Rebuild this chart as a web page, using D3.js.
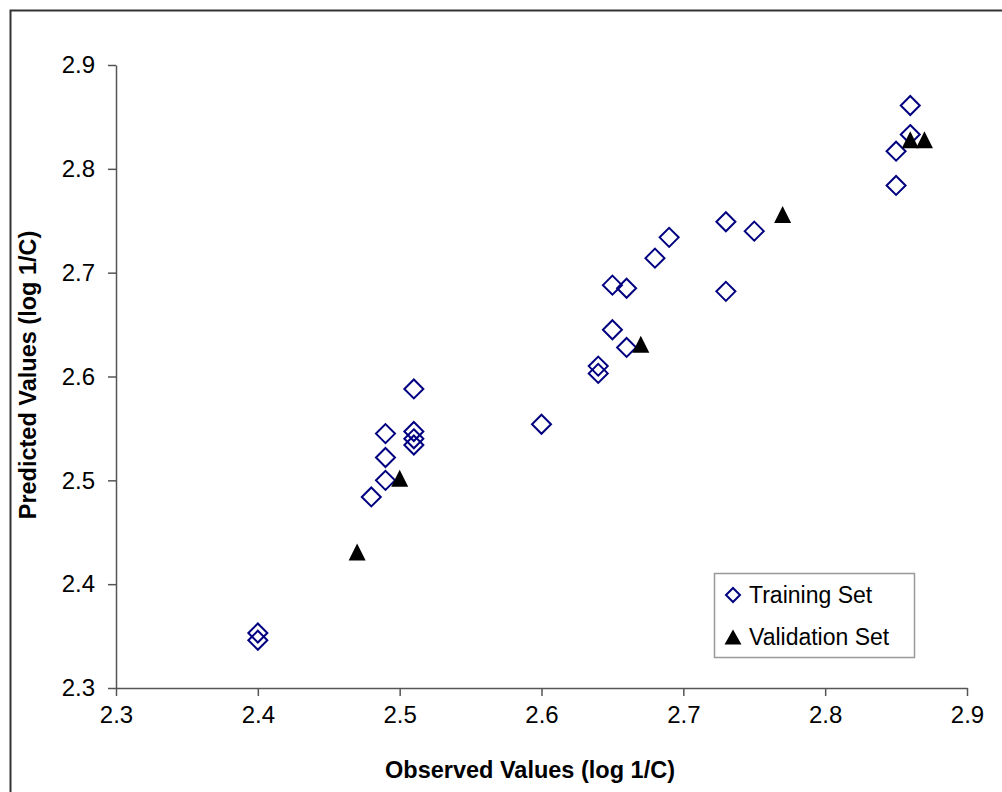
<!DOCTYPE html>
<html>

<head>
    <meta charset="UTF-8">
    <style>
        body {
            margin: 0;
            background: #fff;
        }

        text {
            font-family: "Liberation Sans", Arial, sans-serif;
        }
    </style>
</head>

<body>
    <div id="chart"></div>

    <script src="https://d3js.org/d3.v7.min.js"></script>
    <script>

        // Training set (diamonds)
        const trainObserved = [2.40, 2.40, 2.48, 2.49, 2.49, 2.49, 2.51, 2.51, 2.51, 2.51,
            2.60, 2.64, 2.64, 2.65, 2.66, 2.65, 2.66, 2.68, 2.69, 2.73,
            2.75, 2.73, 2.85, 2.85, 2.86, 2.86];
        const trainPredicted = [2.353, 2.346, 2.484, 2.500, 2.522, 2.545, 2.588, 2.547, 2.540, 2.534,
            2.554, 2.610, 2.603, 2.645, 2.628, 2.688, 2.685, 2.714, 2.734, 2.749,
            2.740, 2.682, 2.784, 2.817, 2.833, 2.861];

        // Validation set (triangles)
        const validObserved = [2.47, 2.50, 2.67, 2.77, 2.86, 2.87];
        const validPredicted = [2.431, 2.502, 2.631, 2.756, 2.828, 2.828];

        const xTicks = [2.3, 2.4, 2.5, 2.6, 2.7, 2.8, 2.9];
        const yTicks = [2.3, 2.4, 2.5, 2.6, 2.7, 2.8, 2.9];
        const seriesNames = ["Training Set", "Validation Set"];

        const W = 1002, H = 792;
        const svg = d3.select("#chart").append("svg")
            .attr("width", W)
            .attr("height", H);

        // outer chart frame
        svg.append("rect")
            .attr("x", 10.5).attr("y", 10.5)
            .attr("width", W + 20).attr("height", H + 20)
            .attr("fill", "none")
            .attr("stroke", "#333")
            .attr("stroke-width", 2);

        const x = d3.scaleLinear().domain([2.3, 2.9]).range([116, 967]);
        const y = d3.scaleLinear().domain([2.3, 2.9]).range([688, 65]);

        const axisColor = "#555";

        // x axis
        const gx = svg.append("g")
            .attr("transform", "translate(0,688)")
            .call(d3.axisBottom(x).tickValues(xTicks).tickFormat(d3.format(".1f"))
                .tickSizeInner(8).tickSizeOuter(0).tickPadding(10));
        gx.selectAll("text").style("font-size", "24px").attr("fill", "#000");

        // y axis
        const gy = svg.append("g")
            .attr("transform", "translate(116,0)")
            .call(d3.axisLeft(y).tickValues(yTicks).tickFormat(d3.format(".1f"))
                .tickSizeInner(8).tickSizeOuter(0).tickPadding(13));
        gy.selectAll("text").style("font-size", "24px").attr("fill", "#000");

        svg.selectAll(".domain, .tick line").attr("stroke", axisColor).attr("stroke-width", 1.5);

        // axis titles
        svg.append("text")
            .attr("x", 530)
            .attr("y", 778)
            .attr("text-anchor", "middle")
            .style("font-size", "23.5px")
            .style("font-weight", "bold")
            .text("Observed Values (log 1/C)");

        svg.append("text")
            .attr("transform", "translate(36,375) rotate(-90)")
            .attr("text-anchor", "middle")
            .style("font-size", "23.5px")
            .style("font-weight", "bold")
            .text("Predicted Values (log 1/C)");

        // marker shapes
        const diamond = (r) => `M0,${-r}L${r},0L0,${r}L${-r},0Z`;
        const triangle = (w, h) => `M0,${-h / 2}L${w / 2},${h / 2}L${-w / 2},${h / 2}Z`;

        const train = trainObserved.map((v, i) => ({ o: v, p: trainPredicted[i] }));
        const valid = validObserved.map((v, i) => ({ o: v, p: validPredicted[i] }));

        svg.append("g").selectAll("path")
            .data(train)
            .join("path")
            .attr("transform", d => `translate(${x(d.o)},${y(d.p)})`)
            .attr("d", diamond(9.5))
            .attr("fill", "none")
            .attr("stroke", "#000080")
            .attr("stroke-width", 2);

        svg.append("g").selectAll("path")
            .data(valid)
            .join("path")
            .attr("transform", d => `translate(${x(d.o)},${y(d.p)})`)
            .attr("d", triangle(17, 17))
            .attr("fill", "#000");

        // legend
        const legend = svg.append("g");
        legend.append("rect")
            .attr("x", 714.5).attr("y", 573.5)
            .attr("width", 200).attr("height", 84)
            .attr("fill", "#fff")
            .attr("stroke", "#999")
            .attr("stroke-width", 1.5);

        legend.append("path")
            .attr("transform", "translate(733,595)")
            .attr("d", diamond(7))
            .attr("fill", "none")
            .attr("stroke", "#000080")
            .attr("stroke-width", 2);
        legend.append("path")
            .attr("transform", "translate(733,637)")
            .attr("d", triangle(17, 15))
            .attr("fill", "#000");

        legend.selectAll("text.lab")
            .data(seriesNames)
            .join("text")
            .attr("class", "lab")
            .attr("x", 749)
            .attr("y", (d, i) => 603 + i * 42)
            .style("font-size", "23px")
            .text(d => d);

    </script>
</body>

</html>
